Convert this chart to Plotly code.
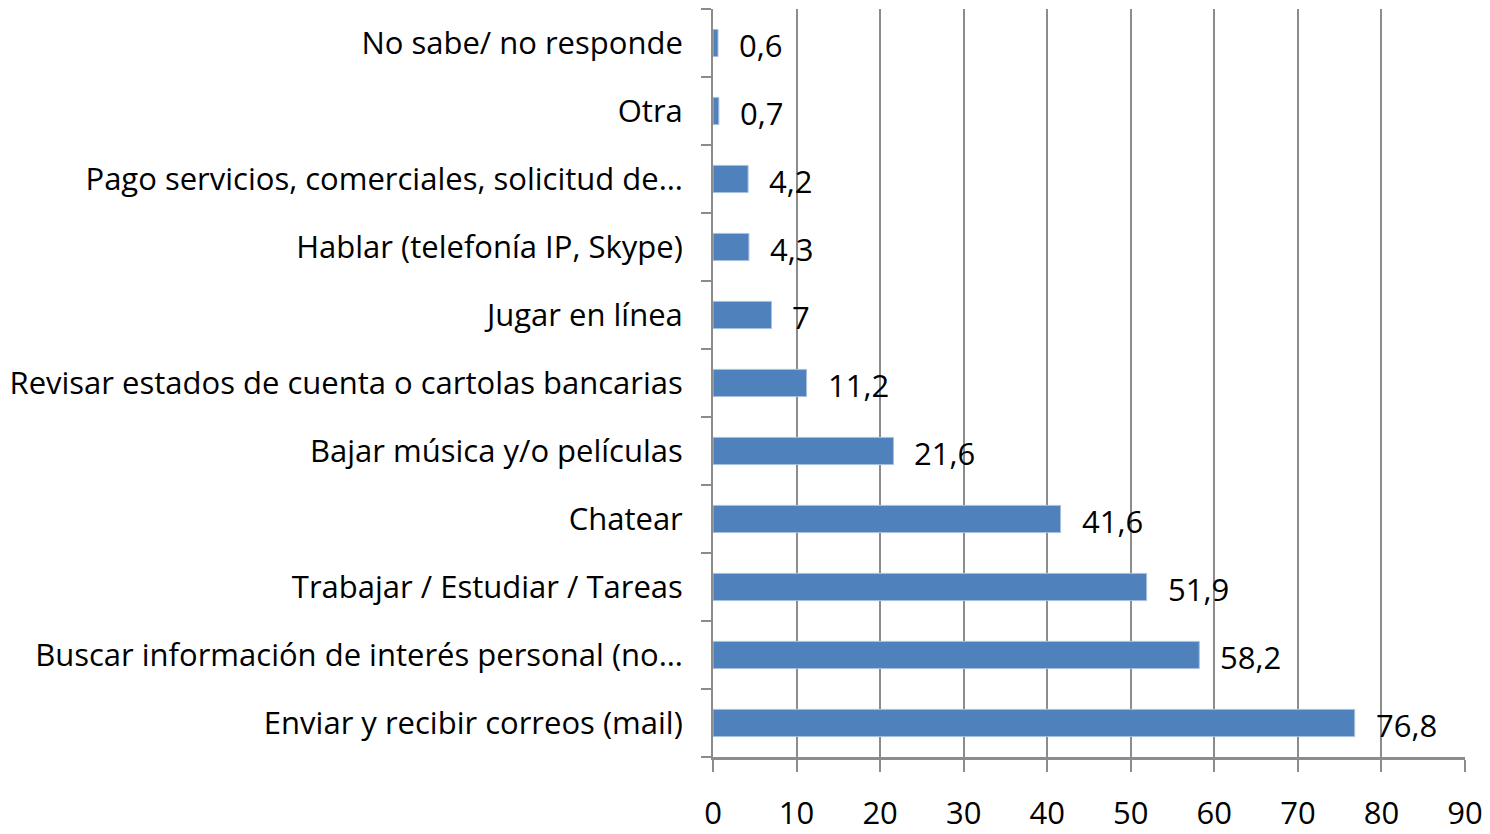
import plotly.graph_objects as go

categories = [
    "Enviar y recibir correos (mail)",
    "Buscar información de interés personal (no…",
    "Trabajar / Estudiar / Tareas",
    "Chatear",
    "Bajar música y/o películas",
    "Revisar estados de cuenta o cartolas bancarias",
    "Jugar en línea",
    "Hablar (telefonía IP, Skype)",
    "Pago servicios, comerciales, solicitud de…",
    "Otra",
    "No sabe/ no responde",
]
values = [76.8, 58.2, 51.9, 41.6, 21.6, 11.2, 7, 4.3, 4.2, 0.7, 0.6]
value_labels = ["76,8", "58,2", "51,9", "41,6", "21,6", "11,2", "7", "4,3", "4,2", "0,7", "0,6"]
x_ticks = [0, 10, 20, 30, 40, 50, 60, 70, 80, 90]

FONT = "Open Sans, Carlito, Calibri, sans-serif"
FS = 31
GREY = "#8c8c8c"

fig = go.Figure()
fig.add_trace(go.Bar(
    x=values, y=categories, orientation="h",
    marker=dict(color="#4F81BD", line=dict(color="#a9c0de", width=1)),
    width=0.4,
    hoverinfo="skip",
))

for c, v, t in zip(categories, values, value_labels):
    fig.add_annotation(
        x=v, y=c, text=t, showarrow=False, xanchor="left", yanchor="middle",
        xshift=19, yshift=-2, font=dict(family=FONT, size=FS, color="black"),
    )

fig.update_layout(
    width=1482, height=826,
    margin=dict(l=705, r=25, t=1, b=74),
    plot_bgcolor="white", paper_bgcolor="white",
    showlegend=False,
    font=dict(family=FONT, size=FS, color="black"),
)
fig.update_xaxes(
    range=[0, 90], tickvals=x_ticks, ticktext=[str(v) for v in x_ticks],
    showgrid=True, gridcolor=GREY, gridwidth=2,
    showline=True, linecolor=GREY, linewidth=3,
    ticks="outside", ticklen=12, tickcolor=GREY, tickwidth=2,
    ticklabelstandoff=15, zeroline=False,
    tickfont=dict(family=FONT, size=FS, color="black"),
)
fig.update_yaxes(
    categoryorder="array", categoryarray=categories,
    showgrid=False, showline=True, linecolor=GREY, linewidth=2,
    ticks="outside", ticklen=10, tickcolor=GREY, tickwidth=2,
    tickson="boundaries", ticklabelstandoff=22,
    tickfont=dict(family=FONT, size=FS, color="black"),
)

fig.write_html("out.html")
